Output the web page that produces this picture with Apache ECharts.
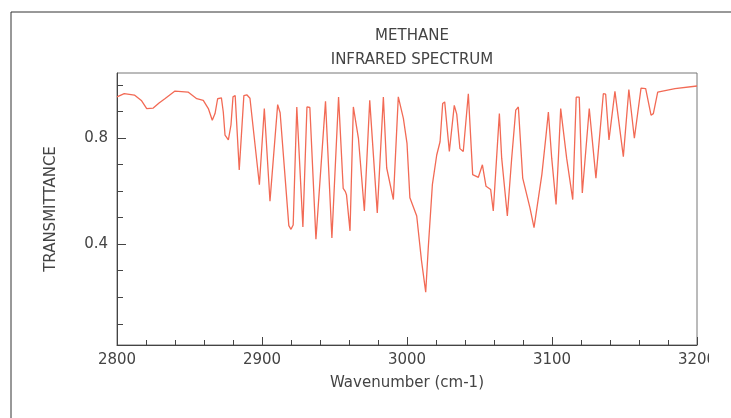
<!DOCTYPE html>
<html>
<head>
    <meta charset="utf-8">
    <script src="https://cdn.jsdelivr.net/npm/echarts@6/dist/echarts.min.js"></script>
</head>
<body style="margin: 0;">
<div id="myChart" style="width: 731px; height: 418px;"></div>

<script type="text/javascript">
    // wavenumber (cm-1) and transmittance
    var wavenumber = [
        2800, 2805, 2812, 2817, 2820.5, 2825, 2829, 2833, 2840, 2849,
        2855, 2859.5, 2863, 2865.7, 2867.6, 2869.4, 2872, 2873.3, 2874.5, 2876.8,
        2878.6, 2880, 2881.5, 2884.3, 2887.5, 2889.5, 2891.7, 2898.2, 2901.6, 2905.5,
        2910.8, 2912.5, 2918.5, 2920, 2921.5, 2924, 2928.2, 2931, 2933, 2937.2,
        2943.8, 2948.2, 2952.8, 2956, 2957.5, 2958.3, 2960.7, 2963, 2966.5, 2970.6,
        2974.3, 2975.6, 2979.5, 2983.7, 2986, 2990.6, 2994, 2997.5, 3000, 3002,
        3006.7, 3010, 3012.9, 3014.7, 3017.5, 3020.5, 3022.8, 3024.6, 3026, 3029.2,
        3032.6, 3034.3, 3036.5, 3038.8, 3042.3, 3045.3, 3049.2, 3052, 3054.5, 3057.7,
        3059.5, 3063.7, 3065.3, 3069.2, 3072.2, 3075, 3076.8, 3079.8, 3084.8, 3087.6,
        3093, 3095.9, 3097.5, 3099.8, 3102.8, 3104.4, 3106, 3110.1, 3114.3, 3116.7,
        3118.8, 3120.9, 3125.7, 3130.3, 3135.4, 3137, 3139.3, 3143.4, 3149.2, 3153,
        3156.8, 3161.4, 3164.6, 3168.3, 3169.9, 3172.9, 3184.8, 3200
    ];
    var transmittance = [
        0.955, 0.967, 0.962, 0.940, 0.911, 0.913, 0.932, 0.948, 0.977, 0.973,
        0.948, 0.942, 0.911, 0.867, 0.892, 0.948, 0.951, 0.898, 0.811, 0.793,
        0.849, 0.955, 0.960, 0.680, 0.960, 0.963, 0.950, 0.624, 0.911, 0.562,
        0.926, 0.895, 0.470, 0.456, 0.472, 0.917, 0.465, 0.917, 0.915, 0.419,
        0.938, 0.423, 0.954, 0.610, 0.598, 0.585, 0.450, 0.917, 0.799, 0.525,
        0.942, 0.942, 0.518, 0.954, 0.687, 0.568, 0.955, 0.874, 0.780, 0.575,
        0.506, 0.338, 0.219, 0.389, 0.624, 0.736, 0.786, 0.930, 0.936, 0.749,
        0.923, 0.890, 0.760, 0.749, 0.967, 0.662, 0.652, 0.699, 0.618, 0.606,
        0.525, 0.892, 0.724, 0.506, 0.724, 0.905, 0.917, 0.649, 0.537, 0.462,
        0.662, 0.811, 0.898, 0.724, 0.550, 0.724, 0.911, 0.724, 0.568, 0.954,
        0.954, 0.593, 0.911, 0.649, 0.967, 0.965, 0.793, 0.976, 0.730, 0.983,
        0.799, 0.988, 0.986, 0.886, 0.892, 0.973, 0.986, 0.996
    ];
    var yTicks = [0.1, 0.2, 0.3, 0.4, 0.5, 0.6, 0.7, 0.8, 0.9, 1.0];
    var yLabels = [0.4, 0.8];

    var chart = echarts.init(document.getElementById('myChart'));

    var data = wavenumber.map(function (w, i) {
        return [w, transmittance[i]];
    });

    var font = 'DejaVu Sans';
    var textColor = '#444';
    var option = {
        animation: false,
        title: {
            text: 'METHANE\nINFRARED SPECTRUM',
            left: 407,
            top: 19,
            textAlign: 'center',
            textStyle: {
                fontFamily: font,
                fontSize: 15,
                fontWeight: 'normal',
                color: textColor,
                lineHeight: 24,
            },
        },
        grid: {
            left: 117,
            right: 34,
            top: 73,
            bottom: 73,
            show: true,
            borderColor: '#777',
            borderWidth: 1,
        },
        xAxis: {
            type: 'value',
            min: 2800,
            max: 3200,
            interval: 100,
            name: 'Wavenumber (cm-1)',
            nameLocation: 'middle',
            nameGap: 31,
            nameTextStyle: {fontFamily: font, fontSize: 15, color: textColor},
            axisLine: {lineStyle: {color: '#444'}},
            axisTick: {inside: true, length: 8, lineStyle: {color: '#444'}},
            minorTick: {show: true, splitNumber: 5, length: 5, lineStyle: {color: '#444'}},
            splitLine: {show: false},
            axisLabel: {
                fontFamily: font,
                fontSize: 15,
                color: textColor,
                margin: 8,
                formatter: function (v) {
                    return String(v);
                },
            },
        },
        yAxis: [{
            type: 'value',
            min: 0.02,
            max: 1.045,
            name: 'TRANSMITTANCE',
            nameLocation: 'middle',
            nameGap: 58,
            nameTextStyle: {fontFamily: font, fontSize: 15, color: textColor},
            axisLine: {show: true, lineStyle: {color: '#444'}},
            axisTick: {show: true, inside: true, length: 6, customValues: yTicks, lineStyle: {color: '#444'}},
            splitLine: {show: false},
            axisLabel: {
                customValues: yLabels,
                fontFamily: font,
                fontSize: 15,
                color: textColor,
                margin: 9,
                formatter: function (v) {
                    return v.toFixed(1);
                },
            },
        }, {
            // longer ticks at the labelled values
            type: 'value',
            position: 'left',
            min: 0.02,
            max: 1.045,
            axisLine: {show: false},
            axisTick: {show: true, inside: true, length: 9, customValues: yLabels, lineStyle: {color: '#444'}},
            axisLabel: {show: false},
            splitLine: {show: false},
        }],
        series: [{
            type: 'line',
            data: data,
            showSymbol: false,
            smooth: false,
            lineStyle: {color: '#f26a55', width: 1.3},
        }],
        graphic: [{
            type: 'polyline',
            shape: {points: [[11, 418], [11, 12], [731, 12]]},
            style: {stroke: '#333', lineWidth: 1, fill: null},
            z: 100,
        }, {
            // the original picture is cut off at the right
            type: 'rect',
            shape: {x: 709, y: 350, width: 22, height: 30},
            style: {fill: '#fff'},
            z: 100,
        }],
    };

    chart.setOption(option);
</script>
</body>
</html>
